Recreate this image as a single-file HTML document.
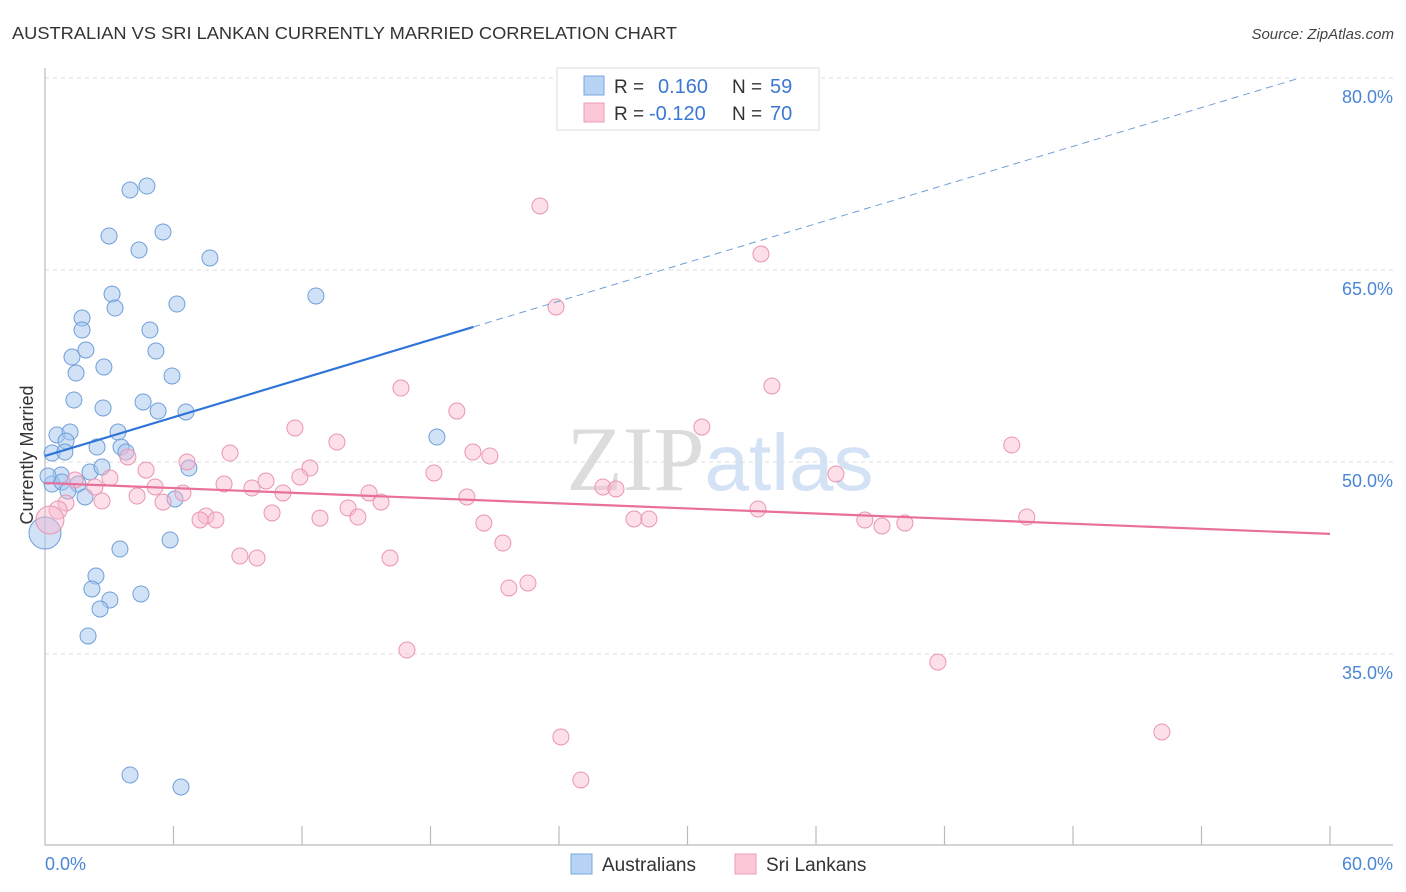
<!DOCTYPE html>
<html><head><meta charset="utf-8"><style>
body{margin:0;background:#fff;font-family:"Liberation Sans",sans-serif;}
svg{display:block}
</style></head><body>
<svg id="chart" width="1406" height="892" xmlns="http://www.w3.org/2000/svg">
<text x="12" y="39" font-size="17.5" fill="#333" textLength="665" lengthAdjust="spacingAndGlyphs">AUSTRALIAN VS SRI LANKAN CURRENTLY MARRIED CORRELATION CHART</text>
<text x="1394" y="39" font-size="15" font-style="italic" fill="#444" text-anchor="end">Source: ZipAtlas.com</text>
<text x="720" y="490" font-size="92" fill="#e3e3e3" text-anchor="middle" font-family="Liberation Serif,serif"><tspan fill="#dcdcdc">ZIP</tspan><tspan fill="#d3e2f4" font-family="Liberation Sans,sans-serif" font-size="80">atlas</tspan></text>
<g id="grid"></g>
<g id="axes"></g>
<g id="pts"></g>
<g id="lines"></g>
<text transform="translate(33,455) rotate(-90)" font-size="18" fill="#333" text-anchor="middle">Currently Married</text>
<g>
<rect x="557" y="68" width="262" height="62" fill="#fff" stroke="#ddd"/>
<rect x="584" y="76" width="20" height="19" fill="#b8d3f4" stroke="#7aa7e0"/>
<rect x="584" y="103" width="20" height="19" fill="#fcc8d8" stroke="#ec9bb6"/>
<text x="614" y="93" font-size="19" fill="#333">R = </text><text x="658" y="93" font-size="20" fill="#3b78d4">0.160</text>
<text x="732" y="93" font-size="19" fill="#333">N = </text><text x="770" y="93" font-size="20" fill="#3b78d4">59</text>
<text x="614" y="120" font-size="19" fill="#333">R = </text><text x="649" y="120" font-size="20" fill="#3b78d4">-0.120</text>
<text x="732" y="120" font-size="19" fill="#333">N = </text><text x="770" y="120" font-size="20" fill="#3b78d4">70</text>
</g>
<g>
<rect x="571" y="854" width="21" height="20" fill="#b8d3f4" stroke="#7aa7e0"/>
<text x="602" y="871" font-size="19" fill="#333">Australians</text>
<rect x="735" y="854" width="21" height="20" fill="#fcc8d8" stroke="#ec9bb6"/>
<text x="766" y="871" font-size="19" fill="#333">Sri Lankans</text>
</g>
</svg>
<script>
const yTicks=[80,65,50,35];
const xTickLabels=["0.0%","60.0%"];
const ausX=[3.97,4.76,2.99,5.51,4.39,7.70,3.13,3.27,6.16,12.65,1.73,1.73,4.90,1.91,1.26,5.18,2.75,1.45,5.93,1.35,2.71,4.58,5.28,6.58,0.56,1.17,0.98,3.41,2.43,3.55,3.78,0.33,0.93,18.3,0.75,2.10,2.66,6.72,0.33,0.79,1.54,1.07,1.87,6.07,0.14,3.50,5.84,2.38,2.19,3.03,2.57,4.48,2.01,3.97,6.35,0];
const ausY=[71.25,71.56,67.66,67.97,66.56,65.94,63.12,62.03,62.34,62.97,61.25,60.31,60.31,58.75,58.2,58.67,57.42,56.95,56.72,54.84,54.22,54.69,53.98,53.91,52.11,52.34,51.64,52.34,51.17,51.17,50.78,50.7,50.78,51.95,48.98,49.22,49.61,49.53,48.28,48.44,48.28,47.73,47.27,47.11,48.91,43.2,43.91,41.09,40.08,39.22,38.52,39.69,36.41,25.55,24.61,44.45];
const ausSize=[8,8,8,8,8,8,8,8,8,8,8,8,8,8,8,8,8,8,8,8,8,8,8,8,8,8,8,8,8,8,8,8,8,8,8,8,8,8,8,8,8,8,8,8,8,8,8,8,8,8,8,8,8,8,8,16];
const sriX=[23.11,33.43,23.86,16.62,33.94,19.23,30.67,11.67,13.63,45.14,19.98,20.77,8.64,6.63,3.87,4.72,12.37,11.90,18.16,10.32,8.36,5.14,3.03,1.40,2.33,6.44,9.66,11.11,15.13,26.05,26.66,19.70,15.69,4.30,5.51,2.66,0.98,14.15,10.60,7.52,7.98,7.24,12.84,14.61,20.49,27.50,28.20,33.29,38.28,39.08,40.15,45.84,36.93,21.38,9.10,9.90,16.11,22.55,21.66,16.90,41.69,24.09,52.15,25.02,0.61,0.23];
const sriY=[70.0,66.25,62.11,55.78,55.94,53.98,52.73,52.66,51.56,51.33,50.78,50.47,50.7,50.0,50.39,49.37,49.53,48.83,49.14,48.52,48.28,48.05,48.75,48.59,48.05,47.58,47.97,47.58,47.58,48.05,47.89,47.27,46.87,47.34,46.87,46.95,46.8,46.41,46.02,45.78,45.47,45.47,45.62,45.7,45.23,45.55,45.55,46.33,45.47,45.0,45.23,45.7,49.06,43.67,42.66,42.5,42.5,40.55,40.16,35.31,34.37,28.52,28.91,25.16,46.25,45.47];
const sriSize=[8,8,8,8,8,8,8,8,8,8,8,8,8,8,8,8,8,8,8,8,8,8,8,8,8,8,8,8,8,8,8,8,8,8,8,8,8,8,8,8,8,8,8,8,8,8,8,8,8,8,8,8,8,8,8,8,8,8,8,8,8,8,8,8,9,14];
const ausTrend=[50.47,0.504];
const sriTrend=[48.36,-0.0663];
const NS="http://www.w3.org/2000/svg";
const X=v=>45+v*(1285/60);
const Y=v=>78+(80-v)*12.8;
function mk(tag,attrs,parent){const e=document.createElementNS(NS,tag);for(const k in attrs)e.setAttribute(k,attrs[k]);parent.appendChild(e);return e;}
const grid=document.getElementById('grid'),axes=document.getElementById('axes'),pts=document.getElementById('pts'),lines=document.getElementById('lines');
yTicks.forEach(t=>{
 const l=mk('line',{x1:45,x2:1393,y1:Y(t),y2:Y(t),stroke:'#ddd','stroke-dasharray':'4,4'},grid);
 
 
 const tx=mk('text',{x:1393,y:Y(t)+25,'font-size':18,fill:'#4a86d6','text-anchor':'end'},grid);
 tx.textContent=t.toFixed(1)+'%';
 
 
});
const ax=mk('path',{d:'M45,68 V845 H1393',fill:'none',stroke:'#bbb','stroke-width':1.2},axes);


for(let i=1;i<=10;i++){
 const tk=mk('line',{x1:X(i*6),x2:X(i*6),y1:826,y2:845,stroke:'#bbb','stroke-width':1.2},axes);
 
 
}
const xl0=mk('text',{x:45,y:870,'font-size':18,fill:'#4a86d6'},axes);xl0.textContent=xTickLabels[0];


const xl1=mk('text',{x:1393,y:870,'font-size':18,fill:'#4a86d6','text-anchor':'end'},axes);xl1.textContent=xTickLabels[1];


ausX.forEach((v,i)=>{
 const c=mk('circle',{cx:X(v),cy:Y(ausY[i]),r:ausSize[i],fill:'rgba(164,198,240,0.5)',stroke:'#6f9fd8','stroke-width':1},pts);
 
 
});
sriX.forEach((v,i)=>{
 const c=mk('circle',{cx:X(v),cy:Y(sriY[i]),r:sriSize[i],fill:'rgba(248,184,206,0.45)',stroke:'#ea95b2','stroke-width':1},pts);
 
 
});
const a1=mk('line',{x1:X(0),y1:Y(ausTrend[0]),x2:X(20),y2:Y(ausTrend[0]+ausTrend[1]*20),stroke:'#2f74d8','stroke-width':2.2},lines);


const xe=(80-ausTrend[0])/ausTrend[1];
const a2=mk('line',{x1:X(20),y1:Y(ausTrend[0]+ausTrend[1]*20),x2:X(xe),y2:Y(80),stroke:'#6f9fd8','stroke-width':1,'stroke-dasharray':'7,5'},lines);


const s1=mk('line',{x1:X(0),y1:Y(sriTrend[0]),x2:X(60),y2:Y(sriTrend[0]+sriTrend[1]*60),stroke:'#e8709a','stroke-width':2.2},lines);


</script>
</body></html>
